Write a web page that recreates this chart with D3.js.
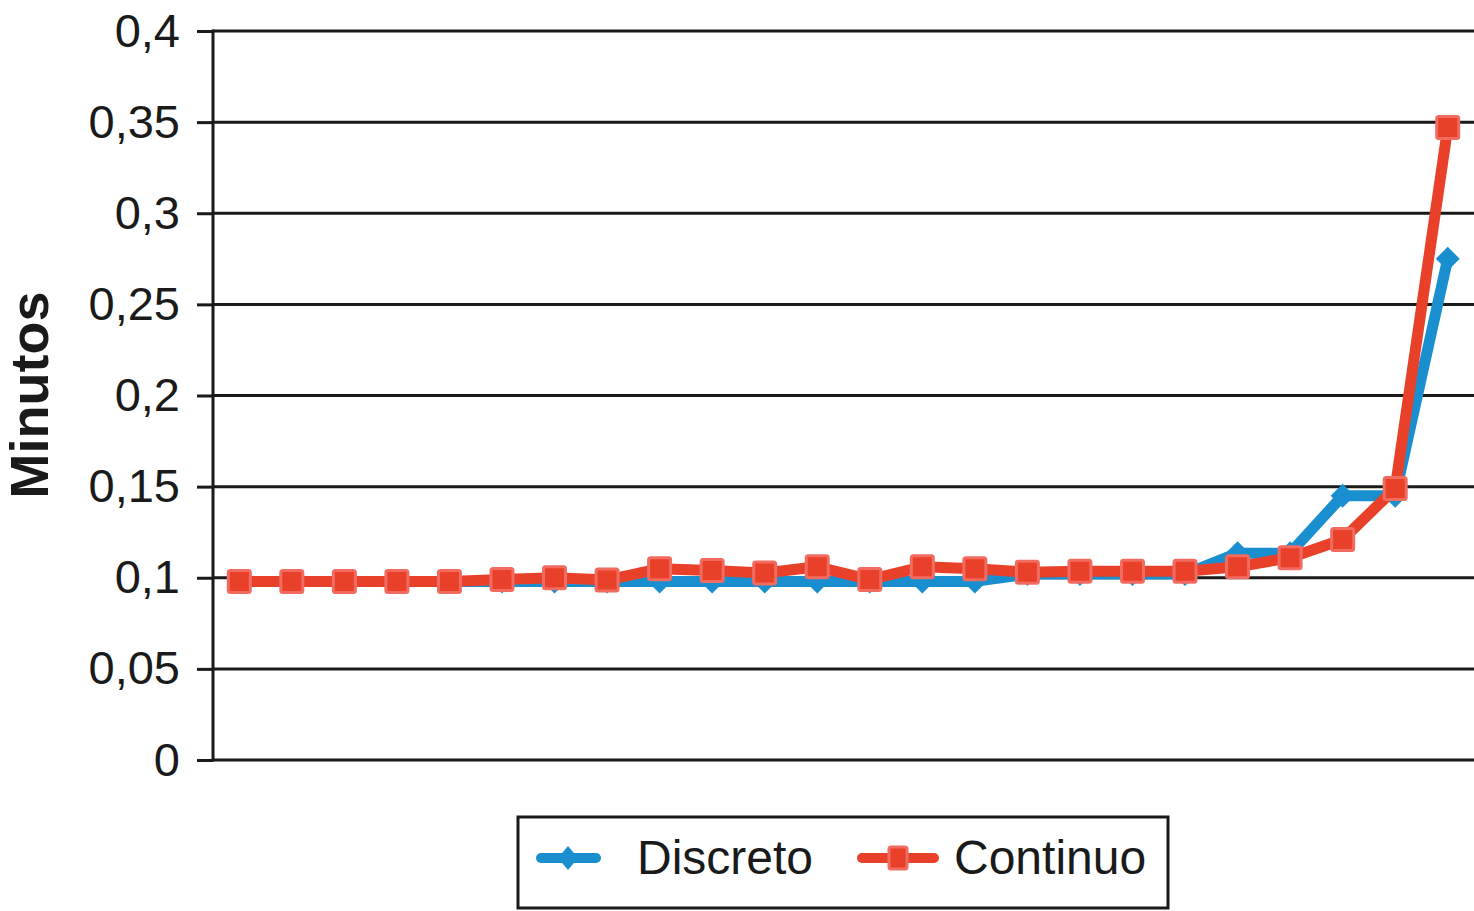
<!DOCTYPE html>
<html><head><meta charset="utf-8">
<script src="https://cdn.jsdelivr.net/npm/d3@7"></script>
<style>body{margin:0;background:#fff}svg{display:block}</style>
</head><body>
<svg id="c" width="1474" height="911"></svg>
<script>
const categories = d3.range(1, 25);
const discreto = [0.098,0.098,0.098,0.098,0.098,0.098,0.098,0.098,0.098,0.098,0.098,0.098,0.098,0.098,0.098,0.102,0.102,0.102,0.102,0.1135,0.1135,0.145,0.145,0.275];
const continuo = [0.098,0.098,0.098,0.098,0.098,0.099,0.100,0.0987,0.105,0.104,0.1026,0.106,0.099,0.106,0.105,0.103,0.1035,0.1035,0.1035,0.106,0.111,0.121,0.149,0.347];
const yTicks = [0,0.05,0.1,0.15,0.2,0.25,0.3,0.35,0.4];
const yLabels = ["0","0,05","0,1","0,15","0,2","0,25","0,3","0,35","0,4"];

const svg = d3.select("#c");
const font = "'Liberation Sans', Arial, Helvetica, sans-serif";
const x = d3.scaleBand().domain(categories).range([213, 1474]);
const y = d3.scaleLinear().domain([0, 0.4]).range([760, 31]);
const cx = d => x(d) + x.bandwidth()/2;

const g = svg.append("g").attr("transform","translate(213,0)")
  .call(d3.axisLeft(y).tickValues(yTicks).tickFormat((d,i)=>yLabels[i]).tickSize(16).tickPadding(20));
g.select(".domain").remove();
g.selectAll(".tick line").attr("stroke","#1a1a1a").attr("stroke-width",3);
g.selectAll(".tick text").attr("font-family",font).attr("font-size",47).attr("fill","#1a1a1a").attr("dx",3);
svg.append("g").selectAll("line").data(yTicks).join("line")
  .attr("x1",213).attr("x2",1474).attr("y1",d=>y(d)).attr("y2",d=>y(d))
  .attr("stroke","#1a1a1a").attr("stroke-width",3);
svg.append("line").attr("x1",213).attr("x2",213).attr("y1",y(0.4)-1.5).attr("y2",y(0)+1.5)
  .attr("stroke","#1a1a1a").attr("stroke-width",3);

svg.append("text").attr("transform","translate(48,395) rotate(-90)").attr("text-anchor","middle")
  .attr("font-family",font).attr("font-weight","bold").attr("font-size",54).attr("fill","#1a1a1a").text("Minutos");

const blue = "#1a8fcf", red = "#e9402a", redStroke = "#f26b60";
const line = d3.line().x((d,i)=>cx(categories[i])).y(d=>y(d));
svg.append("path").datum(discreto).attr("d",line).attr("fill","none").attr("stroke",blue).attr("stroke-width",11).attr("stroke-linejoin","round");
svg.append("g").selectAll("path").data(discreto).join("path")
  .attr("transform",(d,i)=>`translate(${cx(categories[i])},${y(d)})`)
  .attr("d","M0,-12L12,0L0,12L-12,0Z").attr("fill",blue);
svg.append("path").datum(continuo).attr("d",line).attr("fill","none").attr("stroke",red).attr("stroke-width",11).attr("stroke-linejoin","round");
svg.append("g").selectAll("rect").data(continuo).join("rect")
  .attr("x",(d,i)=>cx(categories[i])-11).attr("y",d=>y(d)-11).attr("width",22).attr("height",22).attr("rx",2)
  .attr("fill",red).attr("stroke",redStroke).attr("stroke-width",3);

// legend
svg.append("rect").attr("x",518).attr("y",817).attr("width",650).attr("height",91).attr("fill","none").attr("stroke","#1a1a1a").attr("stroke-width",3);
svg.append("line").attr("x1",541).attr("x2",596).attr("y1",858).attr("y2",858).attr("stroke",blue).attr("stroke-width",10).attr("stroke-linecap","round");
svg.append("path").attr("transform","translate(568,858)").attr("d","M0,-12L10,0L0,12L-10,0Z").attr("fill",blue);
svg.append("text").attr("x",637).attr("y",874).attr("font-family",font).attr("font-size",48).attr("fill","#1a1a1a").text("Discreto");
svg.append("line").attr("x1",862).attr("x2",934).attr("y1",858).attr("y2",858).attr("stroke",red).attr("stroke-width",10).attr("stroke-linecap","round");
svg.append("rect").attr("x",889).attr("y",847).attr("width",18).attr("height",22).attr("rx",2).attr("fill",red).attr("stroke",redStroke).attr("stroke-width",3);
svg.append("text").attr("x",954).attr("y",874).attr("font-family",font).attr("font-size",48).attr("fill","#1a1a1a").text("Continuo");
</script>
</body></html>
